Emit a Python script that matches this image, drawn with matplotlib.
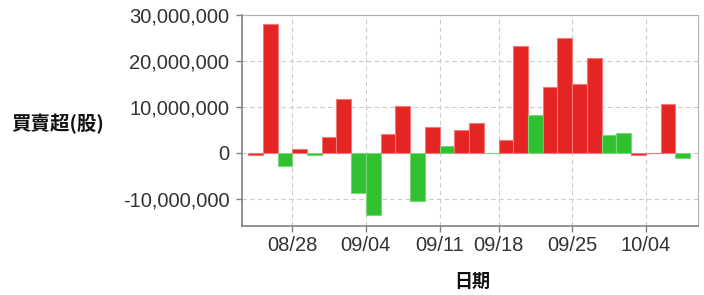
import matplotlib
matplotlib.use("Agg")
import matplotlib.pyplot as plt
from matplotlib.ticker import FuncFormatter, FixedLocator

plt.rcParams['font.family'] = ['Liberation Sans', 'Noto Sans CJK TC', 'DejaVu Sans']

dates = ["08/23", "08/24", "08/25", "08/28", "08/29", "08/30", "08/31", "09/01",
         "09/04", "09/05", "09/06", "09/07", "09/08", "09/11", "09/12", "09/13",
         "09/14", "09/18", "09/19", "09/20", "09/21", "09/22", "09/25", "09/26",
         "09/27", "09/28", "09/29", "10/04", "10/05", "10/06"]
net_shares = [-0.4e6, 28.0e6, -2.76e6, 0.87e6, -0.35e6, 3.5e6, 11.7e6, -8.6e6,
              -13.4e6, 4.1e6, 10.2e6, -10.4e6, 5.7e6, 1.6e6, 5.0e6, 6.6e6,
              0.1e6, 2.8e6, 23.2e6, 8.3e6, 14.3e6, 24.9e6, 14.9e6, 20.6e6,
              3.9e6, 4.3e6, -0.4e6, 0.0, 10.6e6, -1.0e6]
up_down = ["r", "r", "g", "r", "g", "r", "r", "g", "g", "r", "r", "g", "r", "g", "r", "r",
           "g", "r", "r", "g", "r", "r", "r", "r", "g", "g", "r", "r", "r", "g"]
tick_labels = ["08/28", "09/04", "09/11", "09/18", "09/25", "10/04"]
y_ticks = [-10e6, 0, 10e6, 20e6, 30e6]

RED = "#e52424"
GREEN = "#30c030"
RED_EDGE = "#f07a7a"
GREEN_EDGE = "#7ad67a"

fig = plt.figure(figsize=(7.04, 2.95), dpi=100)
ax = fig.add_axes([242/704, 1 - 226/295, (698-242)/704, (226-15)/295])

xs = list(range(len(dates)))
faces = [RED if c == "r" else GREEN for c in up_down]
edges = [RED_EDGE if c == "r" else GREEN_EDGE for c in up_down]
ax.bar(xs, net_shares, width=1.0, align='edge', color=faces, edgecolor=edges,
       linewidth=0.8, zorder=3)

ax.set_xlim(-0.41, len(dates) + 0.54)
ax.set_ylim(-15.87e6, 30e6)

ax.yaxis.set_major_locator(FixedLocator(y_ticks))
ax.yaxis.set_major_formatter(FuncFormatter(lambda v, p: f"{int(round(v)):,}"))
ax.set_xticks([dates.index(t) for t in tick_labels])
ax.set_xticklabels(tick_labels)

ax.grid(True, linestyle=(0, (4, 3)), color="#cccccc", linewidth=0.8, zorder=0)
for s in ["top", "right"]:
    ax.spines[s].set_color("#b0b0b0")
for s in ["left", "bottom"]:
    ax.spines[s].set_color("#808080")
    ax.spines[s].set_linewidth(1.2)

ax.tick_params(axis='both', labelsize=14.5, colors="#808080", labelcolor="#333333",
               length=4, width=1)
ax.tick_params(axis='y', pad=5)
ax.tick_params(axis='x', pad=3)

fig.text(58/704, 1 - 124/295, "買賣超(股)", ha='center', va='center', fontsize=14,
         fontweight='bold', family=['Noto Sans CJK TC', 'DejaVu Sans'], color="#111111")
fig.text(472/704, 1 - 281/295, "日期", ha='center', va='center', fontsize=13,
         fontweight='bold', family=['Noto Sans CJK TC', 'DejaVu Sans'], color="#111111")

fig.savefig("out.png", dpi=100)
